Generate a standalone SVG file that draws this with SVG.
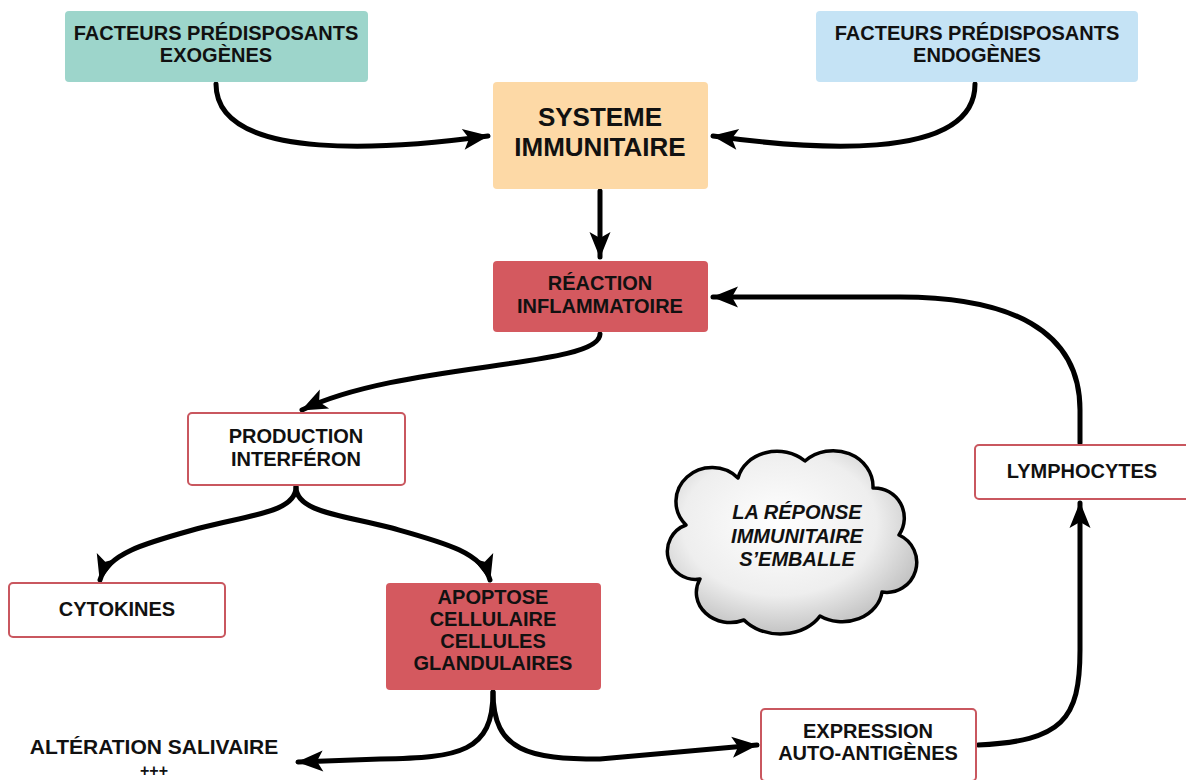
<svg xmlns="http://www.w3.org/2000/svg" width="1186" height="780" viewBox="0 0 1186 780">
<style>
text{font-family:"Liberation Sans","DejaVu Sans",sans-serif;font-weight:bold;fill:#111;text-anchor:middle}
.c{fill:none;stroke:#000;stroke-width:5;stroke-linecap:round}
.w{fill:#fff;stroke:#c9575f;stroke-width:2}
.r{fill:#d4595f}
.t{font-size:20px}
.k{font-size:20px;font-style:italic}
</style>
<defs>
<marker id="a" viewBox="-26 -12 28 24" refX="0" refY="0" markerWidth="28" markerHeight="24" orient="auto" markerUnits="userSpaceOnUse">
<path d="M1,0 L-25,-10.5 L-19,0 L-25,10.5 Z" fill="#000"/>
</marker>
<radialGradient id="g" cx="0.45" cy="0.4" r="0.65">
<stop offset="0" stop-color="#ffffff"/>
<stop offset="0.6" stop-color="#eeeeee"/>
<stop offset="1" stop-color="#b9b9b9"/>
</radialGradient>
</defs>
<g id="connectors">
<path class="c" d="M216,84 C216,165 400,148 488,136" marker-end="url(#a)"/>
<path class="c" d="M975,84 C975,165 800,148 713,136" marker-end="url(#a)"/>
<path class="c" d="M600,191 L600,257" marker-end="url(#a)"/>
<path class="c" d="M1080,443 L1080,410 C1080,330 1010,297 900,297 L713,297" marker-end="url(#a)"/>
<path class="c" d="M600,334 C600,368 400,362 302,410" marker-end="url(#a)"/>
<path class="c" d="M296,487 C296,512 250,515 200,528 C150,542 108,552 100,580" marker-end="url(#a)"/>
<path class="c" d="M296,487 C296,512 342,515 392,528 C442,542 482,552 490,580" marker-end="url(#a)"/>
<path class="c" d="M493,692 C493,752 460,758 380,759 L298,762" marker-end="url(#a)"/>
<path class="c" d="M493,692 C493,752 530,759 600,759 L757,745" marker-end="url(#a)"/>
<path class="c" d="M978,745 C1062,741 1080,720 1080,650 L1080,503" marker-end="url(#a)"/>
</g>
<g id="exogenes">
<rect x="65" y="11" width="303" height="71" rx="4" fill="#9dd5cb"/>
<text class="t" x="216" y="40">FACTEURS PRÉDISPOSANTS</text>
<text class="t" x="216" y="62">EXOGÈNES</text>
</g>
<g id="endogenes">
<rect x="816" y="11" width="322" height="71" rx="4" fill="#c5e3f5"/>
<text class="t" x="977" y="40">FACTEURS PRÉDISPOSANTS</text>
<text class="t" x="977" y="62">ENDOGÈNES</text>
</g>
<g id="systeme">
<rect x="493" y="82" width="215" height="107" rx="4" fill="#fdd9a6"/>
<text x="600" y="126" style="font-size:26px">SYSTEME</text>
<text x="600" y="156" style="font-size:26px">IMMUNITAIRE</text>
</g>
<g id="reaction">
<rect x="493" y="261" width="215" height="71" rx="4" class="r"/>
<text class="t" x="600" y="290">RÉACTION</text>
<text class="t" x="600" y="313">INFLAMMATOIRE</text>
</g>
<g id="production">
<rect x="188" y="413" width="217" height="72" rx="4" class="w"/>
<text class="t" x="296" y="443">PRODUCTION</text>
<text class="t" x="296" y="466">INTERFÉRON</text>
</g>
<g id="cytokines">
<rect x="9" y="583" width="216" height="54" rx="4" class="w"/>
<text class="t" x="117" y="616">CYTOKINES</text>
</g>
<g id="apoptose">
<rect x="386" y="583" width="215" height="107" rx="4" class="r"/>
<text class="t" x="493" y="604">APOPTOSE</text>
<text class="t" x="493" y="626">CELLULAIRE</text>
<text class="t" x="493" y="648">CELLULES</text>
<text class="t" x="493" y="670">GLANDULAIRES</text>
</g>
<g id="alteration">
<text x="154" y="754" style="font-size:21px">ALTÉRATION SALIVAIRE</text>
<text x="154" y="776" style="font-size:16px">+++</text>
</g>
<g id="lymphocytes">
<rect x="975" y="445" width="214" height="54" rx="4" class="w"/>
<text class="t" x="1082" y="478">LYMPHOCYTES</text>
</g>
<g id="expression">
<rect x="761" y="709" width="215" height="72" rx="4" class="w"/>
<text class="t" x="868" y="738">EXPRESSION</text>
<text class="t" x="868" y="760">AUTO-ANTIGÈNES</text>
</g>
<g id="cloud">
<path d="M700,579 a28,28 0 0 1 -14,-54 a34,32 0 0 1 52,-47 a40,34 0 0 1 67,-17 a40,36 0 0 1 68,27 a30,30 0 0 1 26,47 a30,30 0 0 1 -17,57 a40,34 0 0 1 -62,24 a45,34 0 0 1 -76,4 a34,30 0 0 1 -44,-41 z" fill="url(#g)" stroke="#000" stroke-width="3.5" stroke-linejoin="round"/>
<text class="k" x="797" y="519">LA RÉPONSE</text>
<text class="k" x="797" y="543">IMMUNITAIRE</text>
<text class="k" x="797" y="566">S’EMBALLE</text>
</g>
</svg>
